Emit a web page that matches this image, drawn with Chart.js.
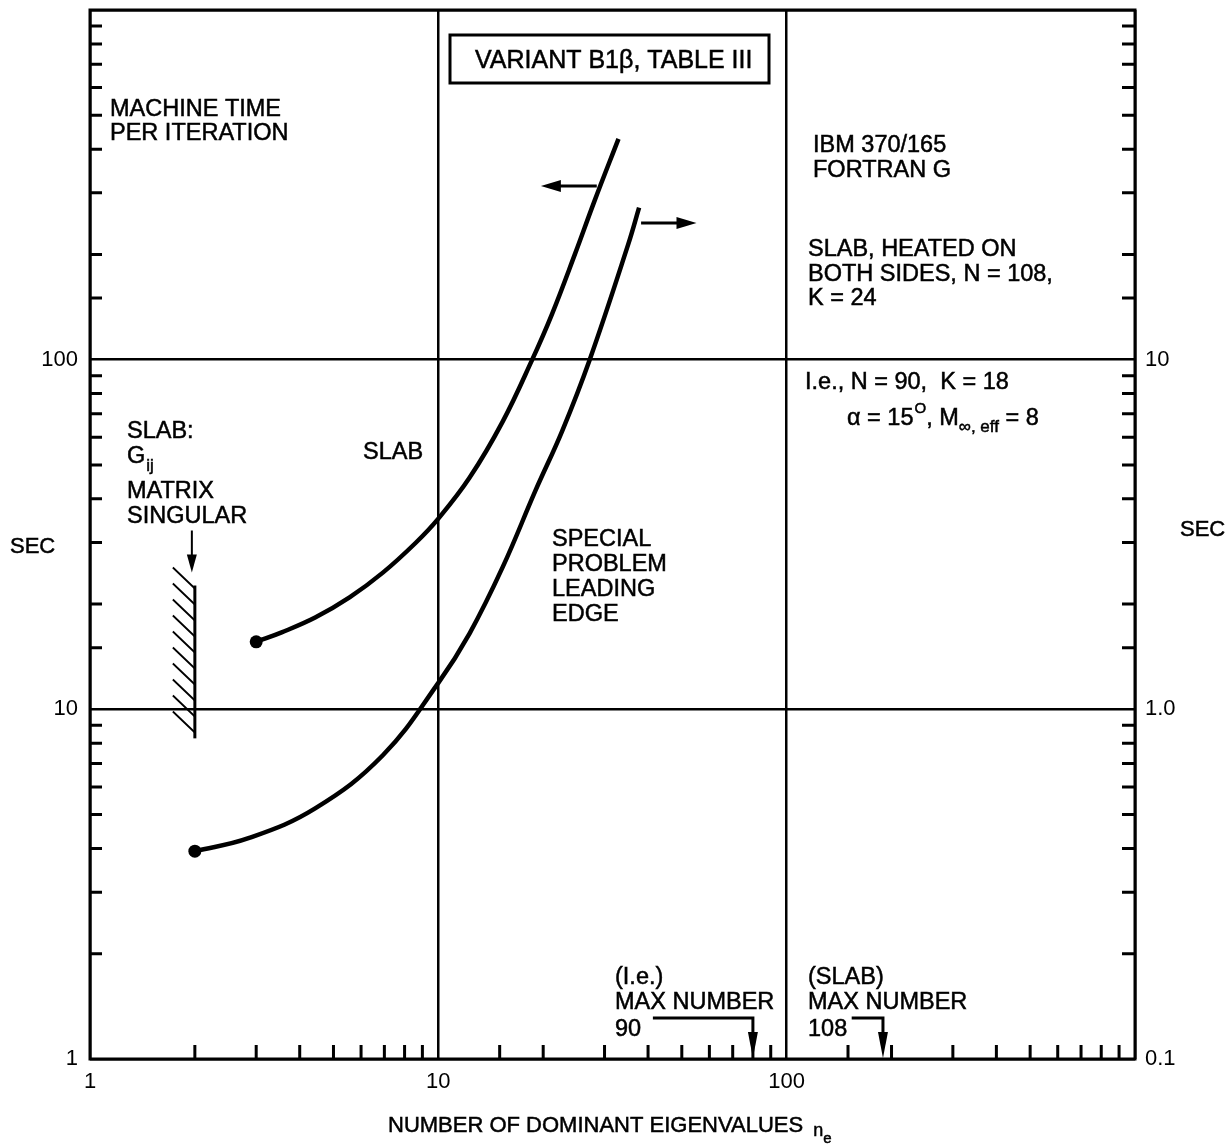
<!DOCTYPE html>
<html>
<head>
<meta charset="utf-8">
<script src="https://cdn.jsdelivr.net/npm/chart.js@4.4.1/dist/chart.umd.min.js"></script>
<style>
    html, body { margin: 0; padding: 0; background: #fff; }
    #wrap { width: 1227px; height: 1147px; position: relative; }
</style>
</head>
<body>
<div id="wrap"><canvas id="chart"></canvas></div>
<script>
// SLAB curve, read on the left axis (sec)
const slabN = [3, 3.55, 4.43, 5.56, 6.93, 8.63, 10, 12.3, 15.3, 18.6, 21.2, 24.7, 28.1, 32.9];
const slabSec = [15.6, 16.6, 18.3, 20.9, 24.6, 30.0, 35.1, 46.0, 66.5, 100, 135, 201, 285, 428];

// special problem, leading edge, read on the right axis (sec)
const edgeN = [2, 2.85, 4.43, 6.93, 10, 12.3, 15.3, 19.0, 22.7, 27.2, 35.1, 37.7];
const edgeSec = [0.393, 0.428, 0.521, 0.739, 1.19, 1.65, 2.55, 4.22, 6.27, 10.0, 21.4, 27.2];

// G_ij matrix singular bar at n = 2 (left axis)
const singularN = [2, 2];
const singularSec = [8.26, 22.6];

// arrows telling which axis a curve belongs to: [from n, to n, sec on left axis]
const slabArrow = [28.5, 19.7, 314];
const edgeArrow = [38.2, 55.1, 246];

// max number markers: [label end n, arrow n, sec of the elbow]
const maxLe = [41.3, 80, 1.31];
const maxSlab = [153.7, 189, 1.31];

// tick labels
const xLabels = [1, 10, 100];
const yLabels = [1, 10, 100];
const y2Values = [0.1, 1, 10];
const y2Labels = ['0.1', '1.0', '10'];

const FONT = '"Liberation Sans", Arial, Helvetica, sans-serif';
const NOTE = 23.5;

function isDecade(v) {
    const l = Math.log10(v);
    return Math.abs(l - Math.round(l)) < 1e-6;
}

function near(a, b) {
    return Math.abs(a - b) < 1e-6 * Math.max(1, Math.abs(b));
}

function pts(xs, ys) {
    return xs.map((v, i) => ({x: v, y: ys[i]}));
}

function arrowHead(ctx, x, y, dx, dy, len, half) {
    // tip at (x, y), pointing along (dx, dy)
    const px = -dy, py = dx;
    ctx.beginPath();
    ctx.moveTo(x, y);
    ctx.lineTo(x - dx * len + px * half, y - dy * len + py * half);
    ctx.lineTo(x - dx * len - px * half, y - dy * len - py * half);
    ctx.closePath();
    ctx.fill();
}

function text(ctx, str, x, y, size) {
    ctx.font = size + 'px ' + FONT;
    ctx.fillText(str, x, y);
    ctx.strokeText(str, x, y); // scanned type is a bit heavier
    return x + ctx.measureText(str).width;
}

function noPad(s) {
    s.paddingTop = 0;
    s.paddingBottom = 0;
}

const decor = {
    id: 'decor',
    afterDatasetsDraw(chart) {
        const {ctx, chartArea: a} = chart;
        const {x, y, y2} = chart.scales;
        ctx.save();
        ctx.strokeStyle = '#000';
        ctx.fillStyle = '#000';
        ctx.lineCap = 'butt';

        // frame
        ctx.lineWidth = 3;
        ctx.strokeRect(a.left, a.top, a.right - a.left, a.bottom - a.top);

        // inward minor ticks
        ctx.lineWidth = 3;
        ctx.beginPath();
        x.ticks.forEach(t => {
            if (isDecade(t.value)) return;
            const px = x.getPixelForValue(t.value);
            ctx.moveTo(px, a.bottom);
            ctx.lineTo(px, a.bottom - 14);
        });
        y.ticks.forEach(t => {
            if (isDecade(t.value)) return;
            const py = y.getPixelForValue(t.value);
            ctx.moveTo(a.left, py);
            ctx.lineTo(a.left + 12, py);
        });
        y2.ticks.forEach(t => {
            if (isDecade(t.value)) return;
            const py = y2.getPixelForValue(t.value);
            ctx.moveTo(a.right, py);
            ctx.lineTo(a.right - 13, py);
        });
        ctx.stroke();

        // hatching left of the singular bar
        const hx = x.getPixelForValue(singularN[0]);
        const hTop = y.getPixelForValue(singularSec[1]);
        const hBot = y.getPixelForValue(singularSec[0]);
        ctx.lineWidth = 1.8;
        ctx.beginPath();
        for (let yy = hTop - 18; yy <= hBot - 24; yy += 16) {
            ctx.moveTo(hx - 22, yy);
            ctx.lineTo(hx, yy + 21);
        }
        ctx.stroke();
        // arrow down onto the bar
        ctx.lineWidth = 2;
        ctx.beginPath();
        ctx.moveTo(hx - 3, hTop - 55);
        ctx.lineTo(hx - 3, hTop - 25);
        ctx.stroke();
        arrowHead(ctx, hx - 3, hTop - 13, 0, 1, 18, 5);

        // axis arrows near the curve tops
        [slabArrow, edgeArrow].forEach(([n0, n1, s]) => {
            const x0 = x.getPixelForValue(n0);
            const x1 = x.getPixelForValue(n1);
            const py = y.getPixelForValue(s);
            const dir = Math.sign(x1 - x0);
            ctx.lineWidth = 3;
            ctx.beginPath();
            ctx.moveTo(x0, py);
            ctx.lineTo(x1 - dir * 15, py);
            ctx.stroke();
            arrowHead(ctx, x1, py, dir, 0, 20, 6);
        });

        // max number markers
        [maxLe, maxSlab].forEach(([n0, n1, s]) => {
            const x0 = x.getPixelForValue(n0);
            const x1 = x.getPixelForValue(n1);
            const py = y.getPixelForValue(s);
            ctx.lineWidth = 3;
            ctx.beginPath();
            ctx.moveTo(x0, py);
            ctx.lineTo(x1, py);
            ctx.lineTo(x1, a.bottom - 20);
            ctx.stroke();
            arrowHead(ctx, x1, a.bottom - 1, 0, 1, 26, 5);
        });

        // title box
        ctx.lineWidth = 3;
        ctx.strokeRect(450, 35, 319, 48);

        // texts
        ctx.textBaseline = 'middle';
        ctx.textAlign = 'left';
        ctx.lineWidth = 0.5;
        text(ctx, 'VARIANT B1\u03B2, TABLE III', 475, 61, 25);
        const lines = [
            ['MACHINE TIME', 110, 110], ['PER ITERATION', 110, 134],
            ['IBM 370/165', 813, 146], ['FORTRAN G', 813, 171],
            ['SLAB, HEATED ON', 808, 250], ['BOTH SIDES, N = 108,', 808, 275], ['K = 24', 808, 299],
            ['I.e., N = 90,  K = 18', 805, 383],
            ['SLAB:', 127, 432], ['MATRIX', 127, 492], ['SINGULAR', 127, 517],
            ['SLAB', 363, 453],
            ['SPECIAL', 552, 540], ['PROBLEM', 552, 565], ['LEADING', 552, 590], ['EDGE', 552, 615],
            ['(I.e.)', 615, 978], ['MAX NUMBER', 615, 1003], ['90', 615, 1030],
            ['(SLAB)', 808, 978], ['MAX NUMBER', 808, 1003], ['108', 808, 1030],
        ];
        lines.forEach(([s, tx, ty]) => text(ctx, s, tx, ty, NOTE));
        text(ctx, 'SEC', 10, 547, 22);
        text(ctx, 'SEC', 1180, 530, 22);

        // G_ij
        let cx = text(ctx, 'G', 127, 457, NOTE);
        text(ctx, 'ij', cx + 1, 466, 17);

        // alpha line
        cx = text(ctx, '\u03B1 = 15', 847, 419, NOTE);
        cx = text(ctx, 'O', cx + 1, 409, 15);
        cx = text(ctx, ', M', cx, 419, NOTE);
        cx = text(ctx, '\u221E, eff', cx, 427, 17);
        text(ctx, ' = 8', cx, 419, NOTE);

        // x axis title
        cx = text(ctx, 'NUMBER OF DOMINANT EIGENVALUES', 388, 1126, 22);
        cx = text(ctx, 'n', cx + 10, 1131, 18);
        text(ctx, 'e', cx, 1139, 15);

        ctx.restore();
    },
};

const tickFont = {family: FONT, size: 22};

new Chart(document.getElementById('chart'), {
    type: 'line',
    data: {
        datasets: [
            {
                data: pts(slabN, slabSec),
                yAxisID: 'y',
                borderColor: '#000',
                borderWidth: 4.5,
                tension: 0.4,
                pointRadius: c => c.dataIndex === 0 ? 6.5 : 0,
                pointBackgroundColor: '#000',
                pointBorderWidth: 0,
            },
            {
                data: pts(edgeN, edgeSec),
                yAxisID: 'y2',
                borderColor: '#000',
                borderWidth: 4.5,
                tension: 0.4,
                pointRadius: c => c.dataIndex === 0 ? 6.5 : 0,
                pointBackgroundColor: '#000',
                pointBorderWidth: 0,
            },
            {
                data: pts(singularN, singularSec),
                yAxisID: 'y',
                borderColor: '#000',
                borderWidth: 3,
                pointRadius: 0,
            },
        ],
    },
    options: {
        responsive: true,
        maintainAspectRatio: false,
        animation: false,
        layout: {padding: {top: 10, left: 0, right: 0, bottom: 0}},
        plugins: {
            legend: {display: false},
            tooltip: {enabled: false},
        },
        scales: {
            x: {
                type: 'logarithmic',
                position: 'bottom',
                min: 1,
                max: 1000,
                afterFit: s => {
                    s.height = 88;
                    s.paddingLeft = 0;
                    s.paddingRight = 0;
                },
                border: {display: false},
                grid: {
                    drawTicks: false,
                    lineWidth: 2.5,
                    color: c => isDecade(c.tick.value) ? '#000' : 'rgba(0,0,0,0)',
                },
                ticks: {
                    autoSkip: false,
                    maxRotation: 0,
                    padding: 10,
                    color: '#000',
                    font: tickFont,
                    callback: v => xLabels.some(l => near(v, l)) ? String(v) : '',
                },
            },
            y: {
                type: 'logarithmic',
                position: 'left',
                min: 1,
                max: 1000,
                afterFit: s => {
                    s.width = 90;
                    noPad(s);
                },
                border: {display: false},
                grid: {
                    drawTicks: false,
                    lineWidth: 2.5,
                    color: c => isDecade(c.tick.value) ? '#000' : 'rgba(0,0,0,0)',
                },
                ticks: {
                    autoSkip: false,
                    padding: 12,
                    color: '#000',
                    font: tickFont,
                    callback: v => yLabels.some(l => near(v, l)) ? String(v) : '',
                },
            },
            y2: {
                type: 'logarithmic',
                position: 'right',
                min: 0.1,
                max: 100,
                afterFit: s => {
                    s.width = 92;
                    noPad(s);
                },
                border: {display: false},
                grid: {display: false, drawTicks: false},
                ticks: {
                    autoSkip: false,
                    padding: 10,
                    color: '#000',
                    font: tickFont,
                    callback: v => {
                        const i = y2Values.findIndex(l => near(v, l));
                        return i >= 0 ? y2Labels[i] : '';
                    },
                },
            },
        },
    },
    plugins: [decor],
});
</script>
</body>
</html>
